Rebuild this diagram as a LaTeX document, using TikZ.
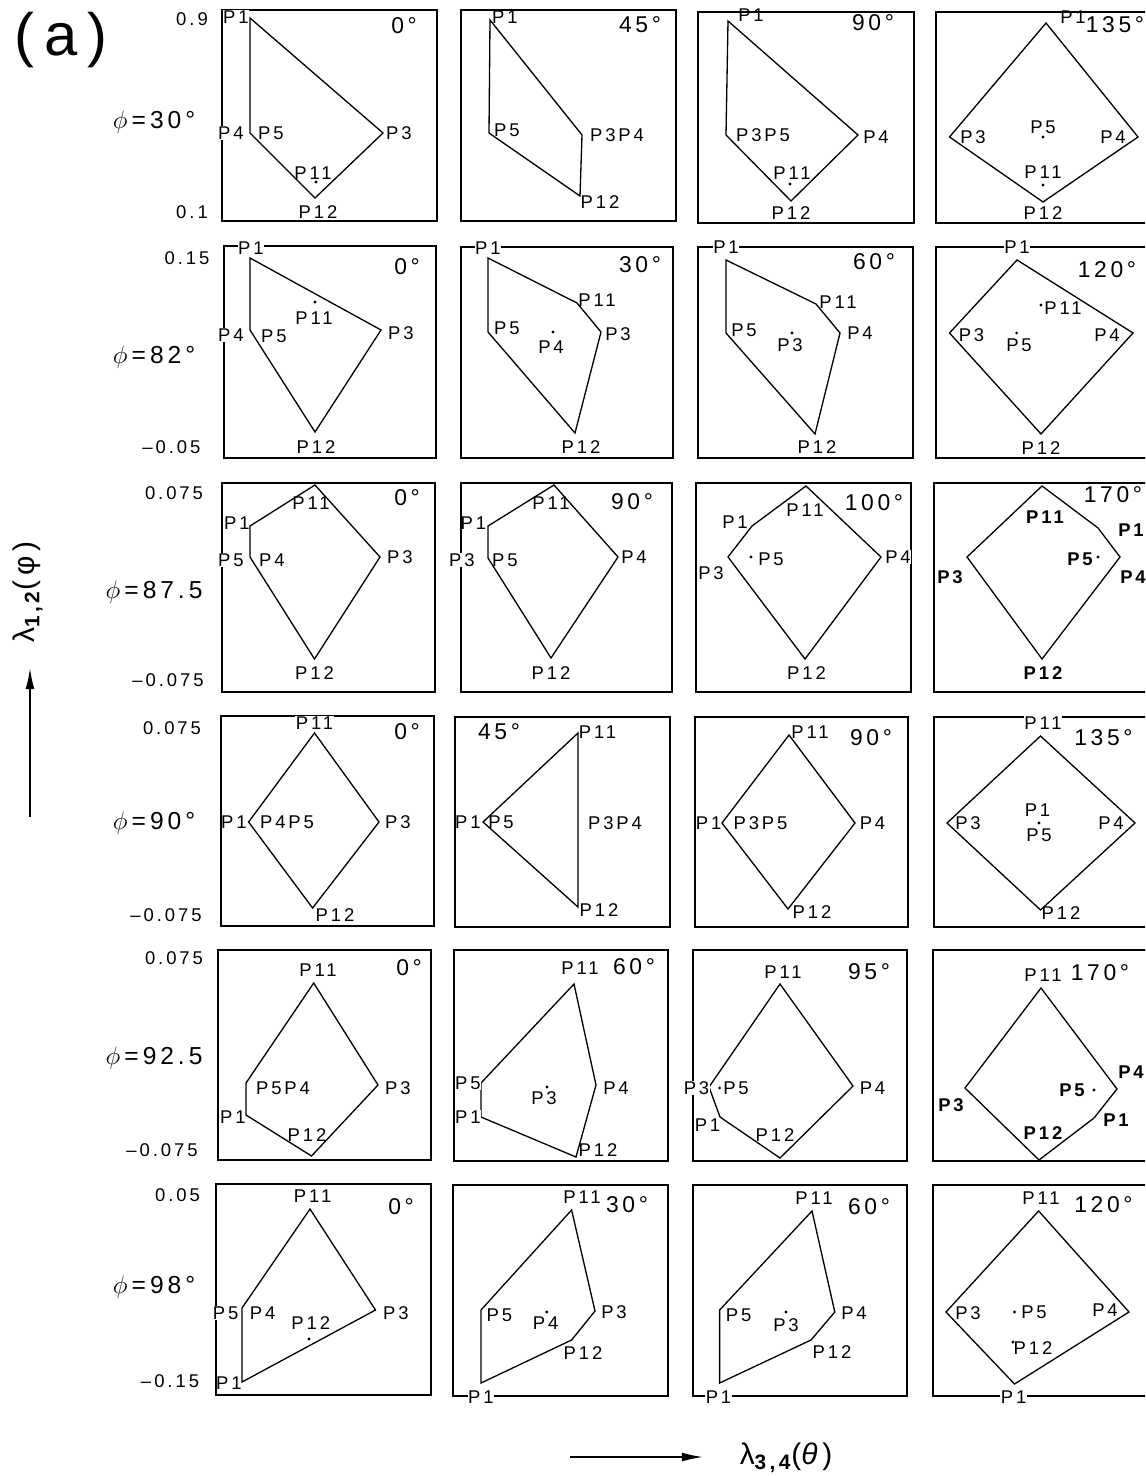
\documentclass[tikz,border=0pt]{standalone}
\usepackage{fontspec}
\setmainfont[LetterSpace=16]{Liberation Sans}
\usepackage{tikz}
\usetikzlibrary{arrows.meta}
\tikzset{
  frame/.style={line width=0.7pt},
  poly/.style={line width=0.75pt,line join=miter},
  plab/.style={font=\fontsize{10.5}{12}\selectfont,inner sep=0.3pt},
  wlab/.style={plab,fill=white},
  blab/.style={plab,font=\fontsize{10.5}{12}\selectfont\bfseries},
  deg/.style={font=\fontsize{13}{15}\selectfont,inner sep=0pt},
  axv/.style={font=\fontsize{10.5}{12}\selectfont,inner sep=0pt},
  rlab/.style={font=\fontsize{14}{16}\selectfont,inner sep=0pt},
  axarr/.style={line width=0.9pt,-{Latex[length=12pt,width=5pt]}}
}
\newcounter{lb}
\newcommand{\pbox}[4]{\draw[frame] (#1,#2) rectangle (#3,#4);}
\newcommand{\lab}[3]{\stepcounter{lb}\node[plab] (lb\arabic{lb}) at (#1,#2) {#3};}
\newcommand{\wlab}[3]{\stepcounter{lb}\node[wlab] (lb\arabic{lb}) at (#1,#2) {#3};}
\newcommand{\blab}[3]{\stepcounter{lb}\node[blab] (lb\arabic{lb}) at (#1,#2) {#3};}
\newcommand{\dg}[3]{\stepcounter{lb}\node[deg] (lb\arabic{lb}) at (#1,#2) {#3°};}
\newcommand{\pdot}[2]{\fill (#1,#2) circle[radius=0.9pt];}
\newcommand{\rowlab}[6]{\node[axv] (top#1) at (#2,#3) {#4}; \node[rlab] (phi#1) at (154,#5) {$\phi$\,=\,#6};}

\begin{document}
\begin{tikzpicture}[x=0.02cm,y=-0.02cm]
\useasboundingbox (0,0) rectangle (1145,1476);
\clip (0,0) rectangle (1145,1476);
\node[font=\fontsize{34}{36}\selectfont,inner sep=0pt] (tag) at (61,40) {(a)};

% row 1, phi = 30
\pbox{222}{10}{437}{221} \pbox{461}{10}{676}{221} \pbox{698}{12}{914}{223} \pbox{936}{12}{1160}{223}
\draw[poly] (250,18)--(383,133)--(315,198)--(250,133)--cycle;
\draw[poly] (490,20)--(582,135)--(580,196)--(489,133)--cycle;
\draw[poly] (728,21)--(858,135)--(791,201)--(726,135)--cycle;
\draw[poly] (1046,23)--(1138,137)--(1043,202)--(949.5,137)--cycle;
\rowlab{1}{192}{19}{0.9}{122}{30°} \node[axv] (bot1) at (192,212) {0.1};
\wlab{236}{17}{P1} \wlab{231}{133}{P4} \lab{271}{133}{P5} \lab{399}{133}{P3} \lab{313}{173}{P11} \pdot{316}{182} \lab{318}{212}{P12} \dg{404}{26}{0}
\lab{505}{17}{P1} \lab{507}{130}{P5} \lab{617}{135}{P3P4} \lab{600}{202}{P12} \dg{640}{25}{45}
\lab{751}{15}{P1} \lab{763}{135}{P3P5} \lab{876}{137}{P4} \lab{792}{173}{P11} \pdot{790}{184} \lab{791}{213}{P12} \dg{873}{23}{90}
\lab{1073}{17}{P1} \lab{973}{137}{P3} \lab{1043}{127}{P5} \pdot{1043}{137} \lab{1113}{137}{P4} \lab{1043}{172}{P11} \pdot{1043}{185} \lab{1043}{213}{P12} \dg{1115}{25}{135}

% row 2, phi = 82
\pbox{224}{246}{436}{458} \pbox{461}{247}{673}{458} \pbox{698}{247}{913}{458} \pbox{936}{247}{1160}{458}
\draw[poly] (250,258)--(381,330)--(315,432)--(250,330)--cycle;
\draw[poly] (488,258)--(577,303)--(601,332)--(575,433)--(488,332)--cycle;
\draw[poly] (726,260)--(816,304)--(840,333)--(815,434)--(726,333)--cycle;
\draw[poly] (1017,260)--(1133,333)--(1041,434)--(949.5,333)--cycle;
\rowlab{2}{187}{258}{0.15}{357}{82°} \node[axv] (bot2) at (178,447) {\llap{–\,}0.05};
\wlab{251}{248}{P1} \wlab{231}{335}{P4} \lab{274}{336}{P5} \lab{401}{333}{P3} \lab{314}{318}{P11} \pdot{315}{302} \lab{316}{447}{P12} \dg{407}{267}{0}
\wlab{488}{248}{P1} \lab{507}{328}{P5} \lab{551}{347}{P4} \pdot{553}{332} \lab{597}{300}{P11} \lab{618}{334}{P3} \lab{581}{447}{P12} \dg{640}{265}{30}
\wlab{726}{247}{P1} \lab{744}{330}{P5} \lab{790}{345}{P3} \pdot{792}{333} \lab{838}{302}{P11} \lab{860}{333}{P4} \lab{817}{447}{P12} \dg{874}{262}{60}
\wlab{1017}{247}{P1} \lab{971.5}{335}{P3} \lab{1019}{345}{P5} \pdot{1016.6}{333} \lab{1063}{308}{P11} \pdot{1041}{305} \lab{1107}{335}{P4} \lab{1041}{448}{P12} \dg{1107}{270}{120}

% row 3, phi = 87.5
\pbox{222}{483}{435}{692} \pbox{461}{483}{672}{692} \pbox{696}{483}{911}{692} \pbox{934}{483}{1160}{692}
\draw[poly] (250,526)--(315,485)--(380,557)--(314.5,659)--(250,557)--cycle;
\draw[poly] (488,526)--(554,485)--(618,557)--(551,658)--(488,558)--cycle;
\draw[poly] (752,526)--(806,486)--(881,557)--(805,659)--(728,557)--cycle;
\draw[poly] (967,557)--(1042,486)--(1098,528)--(1120,557)--(1042,659)--cycle;
\rowlab{3}{174}{493}{0.075}{592}{87.5} \node[axv] (bot3) at (168,680) {–\,0.075};
\lab{311}{503}{P11} \lab{237}{523}{P1} \wlab{231}{560}{P5} \lab{272}{560}{P4} \lab{400}{557}{P3} \lab{314.5}{673}{P12} \dg{407}{498}{0}
\lab{551}{503}{P11} \lab{473.5}{523}{P1} \wlab{462}{560}{P3} \lab{505}{560}{P5} \lab{634}{557}{P4} \lab{551}{673}{P12} \dg{632}{502}{90}
\lab{735}{522}{P1} \lab{805}{510}{P11} \lab{711}{573}{P3} \lab{771}{559}{P5} \pdot{751}{557} \wlab{898}{557}{P4} \lab{806.5}{673}{P12} \dg{874}{503}{100}
\blab{1045}{517}{P11} \blab{1131}{530}{P1} \blab{1080}{559}{P5} \pdot{1098}{557} \blab{1133}{577}{P4} \blab{950}{577}{P3} \blab{1043}{673}{P12} \dg{1113}{495}{170}

% row 4, phi = 90
\pbox{221}{716}{434}{926} \pbox{455}{717}{670}{927} \pbox{695}{717}{908}{927} \pbox{934}{717}{1160}{927}
\draw[poly] (248.6,822)--(314.5,733)--(379,822)--(312.6,908)--cycle;
\draw[poly] (483,822)--(578,733)--(578,907)--cycle;
\draw[poly] (722,823)--(789,735)--(855,823)--(788,909)--cycle;
\draw[poly] (947,823)--(1040.5,736)--(1135,823)--(1040.5,910)--cycle;
\rowlab{4}{172}{728}{0.075}{823}{90°} \node[axv] (bot4) at (166,915) {–\,0.075};
\wlab{314.5}{723}{P11} \lab{234}{822}{P1} \lab{287}{822}{P4P5} \lab{398}{822}{P3} \lab{335}{915}{P12} \dg{407}{732}{0}
\lab{468}{822}{P1} \lab{501}{822}{P5} \lab{597.5}{732}{P11} \lab{615}{823}{P3P4} \lab{599}{910}{P12} \dg{499}{732}{45}
\lab{810}{732}{P11} \lab{708.6}{823}{P1} \lab{760.5}{823}{P3P5} \lab{872.5}{823}{P4} \lab{812}{912}{P12} \dg{871}{738}{90}
\wlab{1043}{723}{P11} \lab{1037.5}{810}{P1} \pdot{1039}{823} \lab{1039}{835}{P5} \lab{968}{823}{P3} \lab{1111}{823}{P4} \lab{1061}{913}{P12} \dg{1103.5}{738}{135}

% row 5, phi = 92.5
\pbox{218}{950}{431}{1160} \pbox{454}{950}{668}{1161} \pbox{693}{950}{907}{1161} \pbox{933}{950}{1160}{1161}
\draw[poly] (246,1083)--(313.7,983)--(378,1085)--(311.5,1156)--(246,1115)--cycle;
\draw[poly] (481,1083)--(574,984)--(596,1085)--(576,1157)--(481,1117)--cycle;
\draw[poly] (709,1087)--(780,984)--(853,1086)--(780,1158)--(720,1117)--cycle;
\draw[poly] (965,1088)--(1041,988)--(1117,1089)--(1094,1118)--(1039,1160)--cycle;
\rowlab{5}{174}{958}{0.075}{1058}{92.5} \node[axv] (bot5) at (162,1150) {–\,0.075};
\lab{318}{970}{P11} \lab{283}{1088}{P5P4} \lab{233}{1117}{P1} \lab{307}{1135}{P12} \lab{398}{1088}{P3} \dg{409}{968}{0}
\wlab{468}{1083}{P5} \wlab{468}{1117}{P1} \lab{544}{1098}{P3} \pdot{547}{1087} \lab{580}{968}{P11} \lab{616}{1088}{P4} \lab{598}{1150}{P12} \dg{634}{967}{60}
\lab{783}{972}{P11} \wlab{696.5}{1088}{P3} \lab{736}{1088}{P5} \pdot{719.6}{1088} \lab{872.5}{1088}{P4} \lab{707.5}{1125}{P1} \lab{775}{1135}{P12} \dg{869}{972}{95}
\lab{1043}{975}{P11} \blab{1131}{1072}{P4} \blab{1072}{1090}{P5} \pdot{1094}{1090} \blab{1116}{1120}{P1} \blab{1043}{1133}{P12} \blab{951}{1105}{P3} \dg{1100}{973}{170}

% row 6, phi = 98
\pbox{216}{1184}{431}{1395} \pbox{453}{1185}{668}{1396} \pbox{693}{1185}{907}{1396} \pbox{933}{1185}{1160}{1396}
\draw[poly] (242,1308)--(310,1209)--(375.5,1310)--(242,1382)--cycle;
\draw[poly] (481,1310)--(571.6,1210)--(595,1311)--(571.6,1340)--(481,1383)--cycle;
\draw[poly] (719.6,1310)--(812,1211)--(834.8,1312)--(811,1340)--(719.6,1383)--cycle;
\draw[poly] (946,1312)--(1038.6,1211)--(1129,1312)--(1014.5,1384)--cycle;
\rowlab{6}{177.6}{1195}{0.05}{1287}{98°} \node[axv] (bot6) at (170,1381) {–\,0.15};
\lab{312.6}{1196}{P11} \wlab{225.7}{1313}{P5} \lab{262.7}{1313}{P4} \lab{310.8}{1323}{P12} \pdot{309}{1339} \lab{396}{1313}{P3} \lab{229}{1383}{P1} \dg{401}{1207}{0}
\wlab{481}{1397}{P1} \lab{499.5}{1315}{P5} \lab{545.7}{1323}{P4} \pdot{546.8}{1312} \lab{583}{1353}{P12} \lab{614}{1312}{P3} \lab{582}{1197}{P11} \dg{627}{1205}{30}
\wlab{718.5}{1397}{P1} \lab{814}{1198}{P11} \lab{738.7}{1315}{P5} \lab{786}{1325}{P3} \pdot{786}{1312} \lab{854}{1313}{P4} \lab{832}{1352}{P12} \dg{869}{1207}{60}
\wlab{1013.7}{1397}{P1} \lab{1041}{1198}{P11} \lab{968}{1313}{P3} \lab{1034}{1312}{P5} \pdot{1014.5}{1312} \lab{1105}{1310}{P4} \lab{1033}{1348}{P12} \pdot{1013}{1342} \dg{1103.5}{1205}{120}

% axes
\coordinate (vfoot) at (30,817); \coordinate (vtip) at (30,668);
\coordinate (hfoot) at (570,1457); \coordinate (htip) at (703,1457);
\draw[axarr] (vfoot) -- (vtip); \draw[axarr] (hfoot) -- (htip);
\node[font=\fontsize{17}{19}\selectfont,rotate=90,inner sep=0pt] (vname) at (28,592) {λ\textsubscript{\bfseries 1,2}(φ)};
\node[font=\fontsize{17}{19}\selectfont,inner sep=0pt] (hname) at (786,1458) {λ\textsubscript{\bfseries 3,4}(\textit{θ})};
\end{tikzpicture}
\end{document}
